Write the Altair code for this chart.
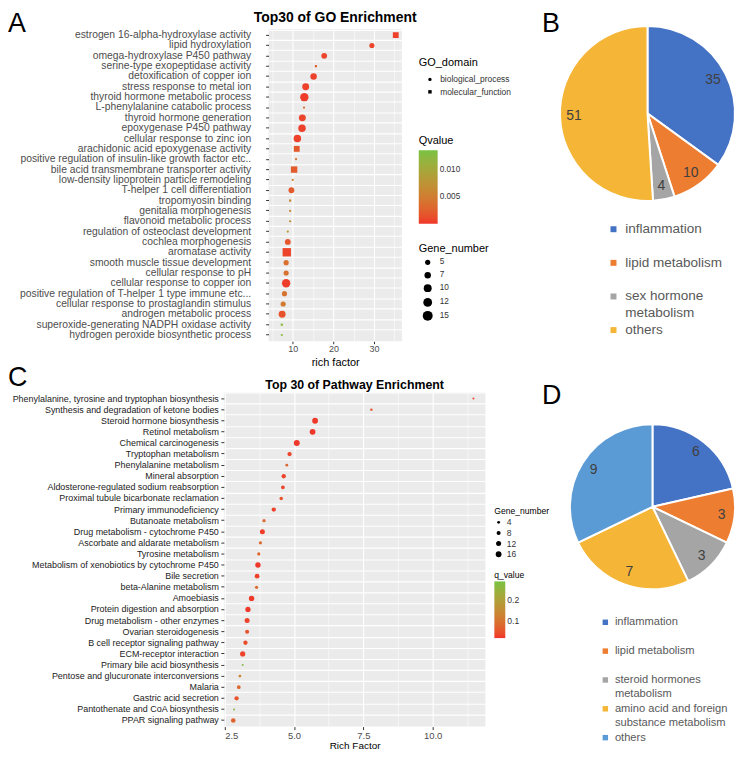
import altair as alt
import pandas as pd

FONT = "Liberation Sans"
RED = "#F0362A"
GREEN = "#78C243"

# ---------------- Panel A : GO enrichment ----------------
go_terms = [
    "estrogen 16-alpha-hydroxylase activity",
    "lipid hydroxylation",
    "omega-hydroxylase P450 pathway",
    "serine-type exopeptidase activity",
    "detoxification of copper ion",
    "stress response to metal ion",
    "thyroid hormone metabolic process",
    "L-phenylalanine catabolic process",
    "thyroid hormone generation",
    "epoxygenase P450 pathway",
    "cellular response to zinc ion",
    "arachidonic acid epoxygenase activity",
    "positive regulation of insulin-like growth factor etc..",
    "bile acid transmembrane transporter activity",
    "low-density lipoprotein particle remodeling",
    "T-helper 1 cell differentiation",
    "tropomyosin binding",
    "genitalia morphogenesis",
    "flavonoid metabolic process",
    "regulation of osteoclast development",
    "cochlea morphogenesis",
    "aromatase activity",
    "smooth muscle tissue development",
    "cellular response to pH",
    "cellular response to copper ion",
    "positive regulation of T-helper 1 type immune etc...",
    "cellular response to prostaglandin stimulus",
    "androgen metabolic process",
    "superoxide-generating NADPH oxidase activity",
    "hydrogen peroxide biosynthetic process",
]
go_rich = [35.35, 29.48, 17.74, 15.70, 15.13, 13.18, 12.85, 12.77, 12.36, 12.28,
           11.14, 10.98, 10.81, 10.33, 10.00, 9.67, 9.35, 9.35, 9.35, 8.78,
           8.78, 8.53, 8.37, 8.37, 8.37, 7.96, 7.64, 7.39, 7.31, 7.31]
go_genes = [6, 5, 6, 2, 7, 8, 11, 2, 8, 9,
            9, 6, 2, 7, 2, 6, 2, 2, 2, 2,
            6, 11, 5, 5, 11, 5, 5, 8, 2, 2]
go_q = [0.0005, 0.0008, 0.0008, 0.0025, 0.0005, 0.0005, 0.0003, 0.0035, 0.0008, 0.0005,
        0.0005, 0.0020, 0.0040, 0.0022, 0.0060, 0.0022, 0.0065, 0.0065, 0.0065, 0.0082,
        0.0018, 0.0006, 0.0038, 0.0038, 0.0003, 0.0040, 0.0048, 0.0015, 0.0125, 0.0125]
go_domain = ["molecular_function", "biological_process", "biological_process", "molecular_function",
             "biological_process", "biological_process", "biological_process", "biological_process",
             "biological_process", "biological_process", "biological_process", "molecular_function",
             "biological_process", "molecular_function", "biological_process", "biological_process",
             "molecular_function", "biological_process", "biological_process", "biological_process",
             "biological_process", "molecular_function", "biological_process", "biological_process",
             "biological_process", "biological_process", "biological_process", "biological_process",
             "molecular_function", "biological_process"]
go_ticks = [5, 10, 15, 20, 25, 30, 35]

# ---------------- Panel C : pathway enrichment ----------------
path_terms = [
    "Phenylalanine, tyrosine and tryptophan biosynthesis",
    "Synthesis and degradation of ketone bodies",
    "Steroid hormone biosynthesis",
    "Retinol metabolism",
    "Chemical carcinogenesis",
    "Tryptophan metabolism",
    "Phenylalanine metabolism",
    "Mineral absorption",
    "Aldosterone-regulated sodium reabsorption",
    "Proximal tubule bicarbonate reclamation",
    "Primary immunodeficiency",
    "Butanoate metabolism",
    "Drug metabolism - cytochrome P450",
    "Ascorbate and aldarate metabolism",
    "Tyrosine metabolism",
    "Metabolism of xenobiotics by cytochrome P450",
    "Bile secretion",
    "beta-Alanine metabolism",
    "Amoebiasis",
    "Protein digestion and absorption",
    "Drug metabolism - other enzymes",
    "Ovarian steroidogenesis",
    "B cell receptor signaling pathway",
    "ECM-receptor interaction",
    "Primary bile acid biosynthesis",
    "Pentose and glucuronate interconversions",
    "Malaria",
    "Gastric acid secretion",
    "Pantothenate and CoA biosynthesis",
    "PPAR signaling pathway",
]
path_rich = [11.47, 7.79, 5.76, 5.67, 5.10, 4.84, 4.74, 4.63, 4.60, 4.54,
             4.27, 3.92, 3.86, 3.79, 3.73, 3.70, 3.67, 3.65, 3.47, 3.34,
             3.31, 3.31, 3.25, 3.15, 3.15, 3.05, 3.01, 2.93, 2.84, 2.81]
path_genes = [2, 3, 16, 16, 17, 9, 4, 9, 7, 6,
              9, 5, 12, 5, 5, 14, 11, 5, 14, 13,
              12, 8, 9, 13, 2, 4, 7, 9, 2, 10]
path_q = [0.03, 0.05, 0.02, 0.02, 0.02, 0.03, 0.08, 0.03, 0.035, 0.05,
          0.03, 0.08, 0.025, 0.08, 0.075, 0.02, 0.03, 0.08, 0.02, 0.02,
          0.03, 0.05, 0.04, 0.03, 0.27, 0.13, 0.08, 0.05, 0.27, 0.07]
path_ticks = [2.5, 3.75, 5.0, 6.25, 7.5, 8.75, 10.0, 11.25]

# ---------------- Panels B and D : pies ----------------
b_cats = ["inflammation", "lipid metabolism", "sex hormone metabolism", "others"]
b_vals = [35, 10, 4, 51]
d_cats = ["inflammation", "lipid metabolism", "steroid hormones metabolism",
          "amino acid and foreign substance metabolism", "others"]
d_vals = [6, 3, 3, 7, 9]

BLUE, ORANGE, GREY, GOLD, LBLUE = "#4472C4", "#ED7D31", "#A5A5A5", "#F5B537", "#5B9BD5"


def letter(ch, x, y):
    return alt.Chart(pd.DataFrame({"t": [ch]})).mark_text(
        align="left", baseline="top", fontSize=27, font=FONT, color="black"
    ).encode(x=alt.value(x), y=alt.value(y), text="t:N")


def spacer(w, ch=None, x=0, y=0):
    base = alt.Chart(pd.DataFrame({"z": [0]})).mark_point(opacity=0)
    if ch is None:
        return base.properties(width=w, height=1)
    return alt.layer(base, letter(ch, x, y)).properties(width=w, height=1)


# ---- A ----
dfA = pd.DataFrame({"term": go_terms, "rich": go_rich, "genes": go_genes,
                    "q": go_q, "domain": go_domain})
bandA = alt.Scale(type="band", paddingInner=0, paddingOuter=0.1)
gridA = alt.Chart(dfA).mark_point(opacity=0).encode(
    y=alt.Y("term:N", sort=go_terms, scale=bandA,
            axis=alt.Axis(orient="right", grid=True, bandPosition=0, labels=False, ticks=False,
                          domain=False, title=None, gridColor="white", gridWidth=1.1,
                          minExtent=0, maxExtent=0))
)
pointsA = alt.Chart(dfA).mark_point(filled=True, opacity=1).encode(
    x=alt.X("rich:Q", scale=alt.Scale(domain=[4.05, 36.85], nice=False, zero=False),
            axis=alt.Axis(values=go_ticks, title="rich factor", titleFontSize=11,
                          titleColor="black", titlePadding=3,
                          labelExpr="datum.value % 10 == 0 ? datum.label : ''",
                          labelFontSize=9, labelColor="#4D4D4D", labelPadding=1,
                          tickSize=2.5, tickColor="#333333",
                          tickOpacity={"condition": {"test": "datum.value % 10 == 0", "value": 1}, "value": 0},
                          grid=True, gridColor="white",
                          gridWidth={"condition": {"test": "datum.value % 10 == 0", "value": 1.1}, "value": 0.55},
                          domain=False)),
    y=alt.Y("term:N", sort=go_terms, scale=bandA,
            axis=alt.Axis(title=None, labelFontSize=10.4, labelColor="#4D4D4D", labelLimit=400,
                          labelPadding=15, tickSize=3, tickColor="#333333", grid=False,
                          domain=False)),
    color=alt.Color("q:Q", title="Qvalue",
                    scale=alt.Scale(domain=[0, 0.0137], range=[RED, GREEN], interpolate="lab"),
                    legend=alt.Legend(orient="none", legendX=151, legendY=106.5, direction="vertical",
                                      gradientLength=74, gradientThickness=19, values=[0.005, 0.010],
                                      format=".3f", titleFontSize=11, labelFontSize=8.3,
                                      gradientStrokeWidth=0, titlePadding=4.5)),
    size=alt.Size("genes:Q", title="Gene_number",
                  scale=alt.Scale(domain=[2, 15], range=[5, 100]),
                  legend=alt.Legend(orient="none", legendX=151, legendY=215.5, values=[5, 7, 10, 12, 15],
                                    symbolFillColor="black", symbolStrokeWidth=0, symbolType="circle",
                                    titleFontSize=11, labelFontSize=8.3, rowPadding=4, labelOffset=7,
                                    symbolOffset=4, titlePadding=4)),
    shape=alt.Shape("domain:N", title="GO_domain",
                    scale=alt.Scale(domain=["biological_process", "molecular_function"],
                                    range=["circle", "square"]),
                    legend=alt.Legend(orient="none", legendX=151, legendY=28.5, symbolSize=12,
                                      symbolFillColor="black", symbolStrokeWidth=0,
                                      titleFontSize=11, labelFontSize=8.5, rowPadding=3.5,
                                      labelOffset=6, symbolOffset=7, titlePadding=7)),
)
chartA = alt.layer(gridA, pointsA).resolve_axis(y="independent").properties(
    width=134, height=314,
    title=alt.TitleParams("Top30 of GO Enrichment", fontSize=14, fontWeight="bold",
                          anchor="middle", frame="group", offset=4, font=FONT),
    view=alt.ViewBackground(fill="#EBEBEB", strokeWidth=0),
)

# ---- C ----
dfC = pd.DataFrame({"term": path_terms, "rich": path_rich, "genes": path_genes, "q": path_q})
bandC = alt.Scale(type="band", paddingInner=0, paddingOuter=0.05)
gridC = alt.Chart(dfC).mark_point(opacity=0).encode(
    y=alt.Y("term:N", sort=path_terms, scale=bandC,
            axis=alt.Axis(orient="right", grid=True, bandPosition=0, labels=False, ticks=False,
                          domain=False, title=None, gridColor="white", gridWidth=1.1,
                          minExtent=0, maxExtent=0))
)
pointsC = alt.Chart(dfC).mark_point(filled=True, opacity=1).encode(
    x=alt.X("rich:Q", scale=alt.Scale(domain=[2.47, 11.9], nice=False, zero=False),
            axis=alt.Axis(values=path_ticks, title="Rich Factor", titleFontSize=10,
                          titleColor="black", titlePadding=1, format=".1f",
                          labelExpr="datum.value % 2.5 == 0 ? datum.label : ''",
                          labelFontSize=9.5, labelColor="#4D4D4D", labelPadding=1,
                          tickSize=3, tickColor="#333333",
                          tickOpacity={"condition": {"test": "datum.value % 2.5 == 0", "value": 1}, "value": 0},
                          grid=True, gridColor="white",
                          gridWidth={"condition": {"test": "datum.value % 2.5 == 0", "value": 1.1}, "value": 0.55},
                          domain=False)),
    y=alt.Y("term:N", sort=path_terms, scale=bandC,
            axis=alt.Axis(title=None, labelFontSize=9.0, labelColor="#222222", labelLimit=400,
                          labelPadding=2.5, tickSize=3, tickColor="#333333", grid=False,
                          domain=False)),
    color=alt.Color("q:Q", title="q_value",
                    scale=alt.Scale(domain=[0.018, 0.289], range=[RED, GREEN], interpolate="lab"),
                    legend=alt.Legend(orient="none", legendX=272, legendY=179.7, direction="vertical",
                                      gradientLength=57, gradientThickness=11, values=[0.1, 0.2],
                                      format=".1f", titleFontSize=8.6, labelFontSize=8.6,
                                      gradientStrokeWidth=0, titlePadding=1.7)),
    size=alt.Size("genes:Q", title="Gene_number",
                  scale=alt.Scale(domain=[2, 17], range=[4, 36]),
                  legend=alt.Legend(orient="none", legendX=272, legendY=115.7, values=[4, 8, 12, 16],
                                    symbolFillColor="black", symbolStrokeWidth=0, symbolType="circle",
                                    titleFontSize=8.6, labelFontSize=8.6, rowPadding=1.7, labelOffset=4,
                                    titlePadding=2)),
)
chartC = alt.layer(gridC, pointsC).resolve_axis(y="independent").properties(
    width=263, height=336,
    title=alt.TitleParams("Top 30 of Pathway Enrichment", fontSize=12.4, fontWeight="bold",
                          anchor="middle", frame="group", offset=1, font=FONT),
    view=alt.ViewBackground(fill="#EBEBEB", strokeWidth=0),
)

# ---- B ----
dfB = pd.DataFrame({"cat": b_cats, "value": b_vals, "idx": list(range(len(b_cats)))})
legB_dom = ["inflammation", " ", "lipid metabolism", "  ", "sex hormone metabolism", "   ", "others"]
legB_rng = [BLUE, "transparent", ORANGE, "transparent", GREY, "transparent", GOLD]
arcB = alt.Chart(dfB).mark_arc(radius=88, stroke="white", strokeWidth=2).encode(
    theta=alt.Theta("value:Q", stack=True),
    order=alt.Order("idx:Q"),
    color=alt.Color("cat:N", title=None, scale=alt.Scale(domain=legB_dom, range=legB_rng),
                    legend=alt.Legend(orient="none", legendX=47, legendY=194.6, symbolType="square",
                                      symbolSize=36, symbolStrokeWidth=0, labelFontSize=13.6,
                                      labelColor="#595959", rowPadding=1.9, labelOffset=5,
                                      labelExpr="datum.value == 'sex hormone metabolism' ? 'sex hormone' : datum.value == '   ' ? 'metabolism' : datum.label")),
)
textB = alt.Chart(dfB).mark_text(radius=74, fontSize=14, color="#404040", font=FONT).encode(
    theta=alt.Theta("value:Q", stack=True), order=alt.Order("idx:Q"), text="value:Q")
chartB = alt.layer(arcB, textB, letter("B", -18, -18)).properties(width=176, height=170)

# ---- D ----
dfD = pd.DataFrame({"cat": d_cats, "value": d_vals, "idx": list(range(len(d_cats)))})
legD_dom = ["inflammation", " ", "lipid metabolism", "  ", "steroid hormones metabolism", "   ",
            "amino acid and foreign substance metabolism", "    ", "others"]
legD_rng = [BLUE, "transparent", ORANGE, "transparent", GREY, "transparent", GOLD, "transparent", LBLUE]
arcD = alt.Chart(dfD).mark_arc(radius=83, stroke="white", strokeWidth=2).encode(
    theta=alt.Theta("value:Q", stack=True),
    order=alt.Order("idx:Q"),
    color=alt.Color("cat:N", title=None, scale=alt.Scale(domain=legD_dom, range=legD_rng),
                    legend=alt.Legend(orient="none", legendX=30, legendY=225.5, symbolType="square",
                                      symbolSize=30, symbolStrokeWidth=0, labelFontSize=11.2,
                                      labelColor="#595959", rowPadding=2.5, labelOffset=4,
                                      labelLimit=400,
                                      labelExpr="datum.value == 'steroid hormones metabolism' ? 'steroid hormones' : datum.value == '   ' ? 'metabolism' : datum.value == 'amino acid and foreign substance metabolism' ? 'amino acid and foreign' : datum.value == '    ' ? 'substance metabolism' : datum.label")),
)
textD = alt.Chart(dfD).mark_text(radius=70, fontSize=14, color="#404040", font=FONT).encode(
    theta=alt.Theta("value:Q", stack=True), order=alt.Order("idx:Q"), text="value:Q")
chartD = alt.layer(arcD, textD, letter("D", -28, -9)).properties(width=166, height=230)

res = dict(color="independent", size="independent", shape="independent")
row1 = alt.hconcat(spacer(45), chartA, spacer(159, "A", -396, -18), chartB,
                   spacing=0, bounds="flush").resolve_scale(**res)
row2 = alt.hconcat(chartC, spacer(85, "C", -480, -27), chartD,
                   spacing=0, bounds="flush").resolve_scale(**res)

chart = alt.vconcat(row1, row2, spacing=-3.5).resolve_scale(**res).properties(
    padding=0, background="white"
).configure(font=FONT).configure_view(strokeWidth=0).configure_legend(
    titleFontWeight="normal", titleColor="black", labelColor="#333333", titleFont=FONT, labelFont=FONT
).configure_axis(labelFont=FONT, titleFont=FONT, titleFontWeight="normal")

chart.save("out.html", embed_options={"renderer": "svg", "actions": False})
